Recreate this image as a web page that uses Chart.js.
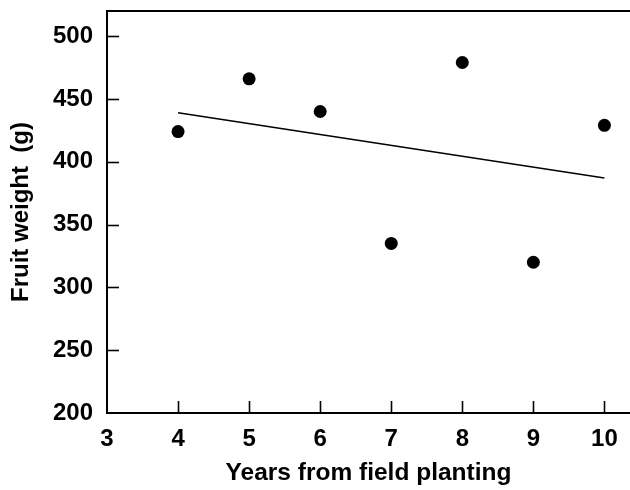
<!DOCTYPE html>
<html><head><meta charset="utf-8">
<script src="https://cdn.jsdelivr.net/npm/chart.js@4/dist/chart.umd.min.js"></script>
<style>html,body{margin:0;padding:0;background:#fff}</style>
</head><body>
<canvas id="c" width="630" height="490"></canvas>
<script>
const years = [4, 5, 6, 7, 8, 9, 10];
const fruitWeight = [424, 466, 440, 335, 479, 320, 429];
const trendYears = [4, 10];
const trendWeight = [439, 387];
const xTicks = [3, 4, 5, 6, 7, 8, 9, 10];
const yTicks = [200, 250, 300, 350, 400, 450, 500];
const xTitle = 'Years from field planting';
const yTitle = 'Fruit weight  (g)';

const FONT = '"Liberation Sans", Arial, Helvetica, sans-serif';

const framePlugin = {
  id: 'frame',
  afterDraw(chart) {
    const ctx = chart.ctx;
    const a = chart.chartArea;
    const xs = chart.scales.x;
    const ys = chart.scales.y;
    ctx.save();
    ctx.strokeStyle = '#000';
    ctx.lineWidth = 1.6;
    ctx.lineCap = 'butt';
    for (const v of xTicks) {
      const px = Math.round(xs.getPixelForValue(v)) + 0.5;
      if (px <= a.left + 2) continue;
      ctx.beginPath(); ctx.moveTo(px, a.bottom); ctx.lineTo(px, a.bottom - 12); ctx.stroke();
    }
    for (const v of yTicks) {
      const py = Math.round(ys.getPixelForValue(v)) + 0.5;
      if (py >= a.bottom - 2) continue;
      ctx.beginPath(); ctx.moveTo(a.left, py); ctx.lineTo(a.left + 12, py); ctx.stroke();
    }
    ctx.lineWidth = 2;
    ctx.beginPath(); ctx.moveTo(a.left - 1, a.top); ctx.lineTo(chart.width, a.top); ctx.stroke();
    ctx.restore();
  }
};

new Chart(document.getElementById('c'), {
  type: 'scatter',
  data: {
    datasets: [
      {
        data: years.map((v, i) => ({ x: v, y: fruitWeight[i] })),
        pointRadius: 6.5,
        pointBackgroundColor: '#000',
        pointBorderWidth: 0,
        showLine: false
      },
      {
        data: trendYears.map((v, i) => ({ x: v, y: trendWeight[i] })),
        showLine: true,
        borderColor: '#000',
        borderWidth: 1.5,
        pointRadius: 0,
        fill: false
      }
    ]
  },
  options: {
    responsive: false,
    animation: false,
    layout: { autoPadding: false, padding: { top: 11, left: 0, right: 0, bottom: 0 } },
    plugins: { legend: { display: false }, tooltip: { enabled: false } },
    scales: {
      x: {
        type: 'linear',
        min: 3, max: 10.36,
        afterBuildTicks: s => { s.ticks = xTicks.map(v => ({ value: v })); },
        afterFit: s => { s.height = 77; s.paddingLeft = 0; s.paddingRight = 0; },
        grid: { display: false, drawTicks: false },
        border: { display: true, color: '#000', width: 2 },
        ticks: { color: '#000', padding: 12, font: { family: FONT, size: 24, weight: 'bold' }, maxRotation: 0, autoSkip: false },
        title: { display: true, text: xTitle, color: '#000', padding: { top: 0, bottom: 2 }, font: { family: FONT, size: 24.5, weight: 'bold' } }
      },
      y: {
        type: 'linear',
        min: 200, max: 520,
        afterBuildTicks: s => { s.ticks = yTicks.map(v => ({ value: v })); },
        afterFit: s => { s.width = 107; s.paddingTop = 0; s.paddingBottom = 0; },
        grid: { display: false, drawTicks: false },
        border: { display: true, color: '#000', width: 2 },
        ticks: { color: '#000', padding: 14, font: { family: FONT, size: 24, weight: 'bold' }, autoSkip: false },
        title: { display: true, text: yTitle, color: '#000', padding: { top: 7, bottom: 0 }, font: { family: FONT, size: 24, weight: 'bold' } }
      }
    }
  },
  plugins: [framePlugin]
});
</script>
</body></html>
